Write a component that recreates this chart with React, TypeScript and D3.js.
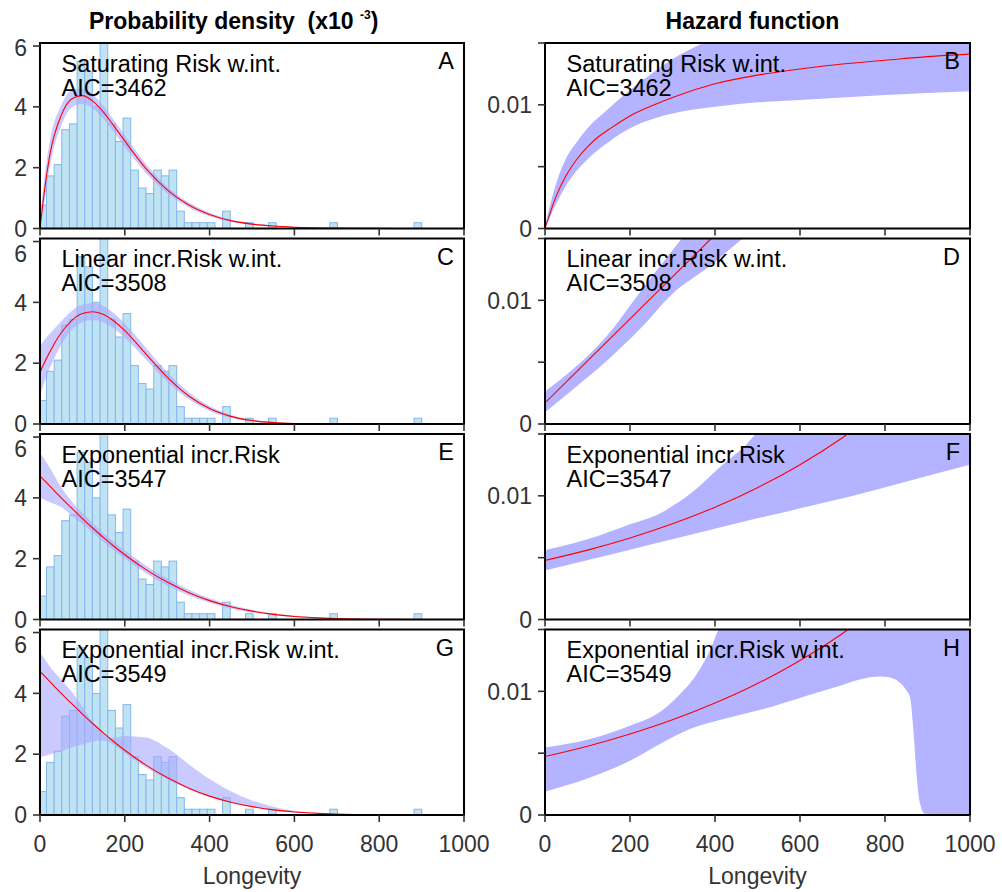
import React from 'react';
import * as d3 from 'd3';

// ---------- Histogram (density x10^-3) ----------
const BIN_START = -2.76;
const BIN_WIDTH = 18.06;
const HIST_DENSITY = [
  0.77, 1.73, 2.1, 3.25, 3.44, 5.5, 5.17, 4.0, 6.6, 3.44,
  2.86, 3.63, 1.92, 1.33, 1.15, 1.92, 1.73, 1.92, 0.57, 0.19,
  0.19, 0.19, 0.19, 0, 0.57, 0, 0, 0.19, 0, 0,
  0.19, 0, 0, 0, 0, 0, 0, 0, 0.19, 0,
  0, 0, 0, 0, 0, 0, 0, 0, 0, 0.19,
];

// ---------- Density curves (x10^-3) ----------
const T_DENS = [0, 12.5, 25, 50, 75, 100, 125, 150, 175, 200, 250, 300, 350, 400, 450, 500, 550, 600, 700, 800, 900, 1000];
const A_FIT = [0, 1.45, 2.55, 3.72, 4.27, 4.37, 4.18, 3.82, 3.36, 2.88, 1.97, 1.27, 0.78, 0.46, 0.26, 0.145, 0.08, 0.043, 0.012, 0.003, 0.001, 0];
const A_UP = [0.3, 1.9, 3.0, 4.05, 4.55, 4.6, 4.4, 4.02, 3.55, 3.07, 2.12, 1.38, 0.86, 0.52, 0.3, 0.17, 0.095, 0.052, 0.015, 0.004, 0.001, 0];
const A_LO = [0, 1.05, 2.15, 3.38, 3.98, 4.1, 3.95, 3.6, 3.16, 2.69, 1.82, 1.16, 0.7, 0.4, 0.22, 0.12, 0.065, 0.034, 0.009, 0.002, 0, 0];
const C_FIT = [1.7, 2.08, 2.42, 3.0, 3.41, 3.635, 3.69, 3.6, 3.38, 3.07, 2.3, 1.54, 0.93, 0.508, 0.251, 0.113, 0.046, 0.017, 0.0015, 0, 0, 0];
const C_UP = [2.55, 2.8, 3.0, 3.38, 3.72, 3.93, 3.98, 3.88, 3.63, 3.3, 2.5, 1.7, 1.05, 0.59, 0.3, 0.145, 0.063, 0.025, 0.003, 0, 0, 0];
const C_LO = [0.95, 1.45, 1.9, 2.6, 3.1, 3.35, 3.42, 3.34, 3.13, 2.84, 2.12, 1.39, 0.82, 0.43, 0.2, 0.085, 0.032, 0.01, 0.0005, 0, 0, 0];
const E_FIT = [4.72, 4.54, 4.36, 4.0, 3.66, 3.32, 3.0, 2.69, 2.4, 2.13, 1.64, 1.23, 0.89, 0.62, 0.42, 0.275, 0.17, 0.1, 0.03, 0.006, 0.001, 0];
const E_UP = [5.5, 5.22, 4.95, 4.35, 3.88, 3.5, 3.16, 2.84, 2.54, 2.27, 1.77, 1.35, 0.99, 0.7, 0.48, 0.32, 0.2, 0.12, 0.04, 0.01, 0.002, 0];
const E_LO = [4.0, 3.92, 3.85, 3.7, 3.42, 3.14, 2.85, 2.55, 2.27, 2.0, 1.52, 1.12, 0.8, 0.55, 0.36, 0.23, 0.14, 0.08, 0.02, 0.004, 0.0005, 0];
const G_FIT = [4.72, 4.54, 4.36, 4.0, 3.66, 3.32, 3.0, 2.69, 2.4, 2.13, 1.64, 1.23, 0.89, 0.62, 0.42, 0.275, 0.17, 0.1, 0.03, 0.006, 0.001, 0];
const G_UP = [5.35, 5.1, 4.85, 4.45, 4.05, 3.55, 3.05, 2.66, 2.53, 2.6, 2.55, 2.2, 1.68, 1.18, 0.78, 0.48, 0.27, 0.14, 0.03, 0.005, 0.001, 0];
const G_LO = [1.9, 1.95, 2.0, 2.1, 2.22, 2.33, 2.42, 2.45, 2.3, 2.03, 1.56, 1.17, 0.85, 0.59, 0.4, 0.26, 0.16, 0.09, 0.025, 0.005, 0.001, 0];

// ---------- Hazard curves ----------
const B_FIT_T = [0, 25, 50, 75, 100, 125, 150, 200, 250, 300, 400, 500, 600, 700, 800, 900, 1000];
const B_FIT = [0, 0.0025, 0.0043, 0.0056, 0.0066, 0.0074, 0.008, 0.0091, 0.0099, 0.0106, 0.0117, 0.0124, 0.0129, 0.0133, 0.0136, 0.0139, 0.0141];
const B_UP_T = [0, 25, 50, 75, 100, 150, 200, 250, 300, 372, 450, 1000];
const B_UP = [0.0002, 0.0035, 0.0057, 0.007, 0.0081, 0.0097, 0.0112, 0.0125, 0.0137, 0.015, 0.0163, 0.022];
const B_LO_T = [0, 25, 50, 100, 150, 200, 300, 400, 500, 600, 800, 1000];
const B_LO = [0, 0.0019, 0.0035, 0.0056, 0.007, 0.0081, 0.0093, 0.00985, 0.0102, 0.0104, 0.0108, 0.0111];

const D_FIT_T = [0, 100, 200, 300, 400, 500];
const D_FIT = [0.0017, 0.0051, 0.0085, 0.0119, 0.0153, 0.0188];
const D_UP_T = [0, 67, 145, 224, 322, 400, 1000];
const D_UP = [0.00262, 0.00446, 0.0071, 0.01068, 0.015, 0.0182, 0.045];
const D_LO_T = [0, 67, 145, 224, 302, 380, 465, 550, 1000];
const D_LO = [0.00095, 0.00284, 0.0051, 0.0077, 0.0106, 0.01257, 0.015, 0.0173, 0.03];

const F_FIT_T = [0, 100, 200, 300, 400, 500, 600, 700, 800];
const F_FIT = [0.00478, 0.00561, 0.00659, 0.00774, 0.00908, 0.01066, 0.01252, 0.0147, 0.01726];
const F_UP_T = [0, 106, 200, 263, 341, 420, 475, 498, 550, 1000];
const F_UP = [0.00562, 0.00655, 0.0077, 0.00846, 0.01014, 0.01257, 0.01419, 0.0151, 0.0168, 0.03];
const F_LO_T = [0, 106, 200, 302, 459, 616, 725, 851, 1000];
const F_LO = [0.00397, 0.00486, 0.00565, 0.00651, 0.00784, 0.00911, 0.01, 0.01116, 0.01251];

const H_FIT_T = [0, 100, 200, 300, 400, 500, 600, 700, 800];
const H_FIT = [0.00473, 0.00556, 0.00655, 0.0077, 0.00905, 0.01063, 0.0125, 0.01468, 0.01725];
const H_UP_T = [0, 106, 200, 263, 310, 357, 388, 408, 450, 1000];
const H_UP = [0.00546, 0.00614, 0.00722, 0.00816, 0.00951, 0.0114, 0.0133, 0.015, 0.017, 0.03];
const H_LO_T = [0, 106, 200, 263, 341, 420, 514, 616, 694, 765, 790, 812, 835, 851, 859, 867, 875, 882, 894, 1000];
const H_LO = [0.00189, 0.00303, 0.00438, 0.0056, 0.00695, 0.00776, 0.00857, 0.00965, 0.01046, 0.01114, 0.0112, 0.01112, 0.0107, 0.01005, 0.0095, 0.0068, 0.003, 0.001, 0.0001, 0];

// ---------- Labels ----------
const MODEL_NAMES = ['Saturating Risk w.int.', 'Linear incr.Risk w.int.', 'Exponential incr.Risk', 'Exponential incr.Risk w.int.'];
const AIC_VALUES = [3462, 3508, 3547, 3549];
const LEFT_LETTERS = ['A', 'C', 'E', 'G'];
const RIGHT_LETTERS = ['B', 'D', 'F', 'H'];
const X_TICKS = [0, 200, 400, 600, 800, 1000];
const DENS_TICKS = [0, 2, 4, 6];
const HAZ_TICKS = [0, 0.005, 0.01, 0.015];
const HAZ_TICK_LABELS: Record<string, string> = { '0': '0', '0.01': '0.01' };

const DENS_SERIES = [
  { fit: A_FIT, up: A_UP, lo: A_LO },
  { fit: C_FIT, up: C_UP, lo: C_LO },
  { fit: E_FIT, up: E_UP, lo: E_LO },
  { fit: G_FIT, up: G_UP, lo: G_LO },
];
const HAZ_SERIES = [
  { ft: B_FIT_T, f: B_FIT, ut: B_UP_T, u: B_UP, lt: B_LO_T, l: B_LO },
  { ft: D_FIT_T, f: D_FIT, ut: D_UP_T, u: D_UP, lt: D_LO_T, l: D_LO },
  { ft: F_FIT_T, f: F_FIT, ut: F_UP_T, u: F_UP, lt: F_LO_T, l: F_LO },
  { ft: H_FIT_T, f: H_FIT, ut: H_UP_T, u: H_UP, lt: H_LO_T, l: H_LO },
];

const FONT = '"Liberation Sans", Arial, Helvetica, sans-serif';
const TOPS = [43, 238.5, 434, 629.5];
const PH = 185.5;

export default function App() {
  const xL = d3.scaleLinear().domain([0, 1000]).range([40, 464]);
  const xR = d3.scaleLinear().domain([0, 1000]).range([545, 970]);

  const lineFrom = (xs: any, ys: any) =>
    d3.line<[number, number]>().x(d => xs(d[0])).y(d => ys(d[1])).curve(d3.curveMonotoneX);

  const bandPath = (tu: number[], vu: number[], tl: number[], vl: number[], xs: any, ys: any) => {
    const ln = lineFrom(xs, ys);
    const up = tu.map((t, i) => [t, vu[i]] as [number, number]);
    const lo = tl.map((t, i) => [t, vl[i]] as [number, number]).reverse();
    return (ln(up) || '') + (ln(lo) || '').replace(/^M/, 'L') + 'Z';
  };

  const axisCol = '#333';

  const renderFrame = (xs: any, ys: any, top: number, isBottom: boolean, side: 'L' | 'R', idx: number) => {
    const x0 = xs.range()[0];
    const x1 = xs.range()[1];
    const bottom = top + PH;
    const yt = side === 'L' ? DENS_TICKS : HAZ_TICKS;
    return (
      <g>
        <rect x={x0} y={top} width={x1 - x0} height={PH} fill="none" stroke="#000" strokeWidth={2} />
        {X_TICKS.map(t => (
          <line key={'xt' + t} x1={xs(t)} x2={xs(t)} y1={bottom} y2={bottom + 7} stroke={axisCol} strokeWidth={1.6} />
        ))}
        {isBottom && X_TICKS.map(t => (
          <text key={'xl' + t} x={xs(t)} y={852} textAnchor="middle" fontSize={23} fill={axisCol} fontFamily={FONT}>{t}</text>
        ))}
        {yt.map(v => (
          <line key={'yt' + v} x1={x0 - 7} x2={x0} y1={ys(v)} y2={ys(v)} stroke={axisCol} strokeWidth={1.6} />
        ))}
        {yt.map(v => {
          const lab = side === 'L' ? String(v) : HAZ_TICK_LABELS[String(v)];
          if (lab === undefined) return null;
          // top label nudged down so it clears the "0" of the panel above
          const shift = side === 'L' && v === 6 ? (idx === 0 ? 2 : 12) : 0;
          return (
            <text key={'yl' + v} x={x0 - 13} y={ys(v) + shift} dy="0.36em" textAnchor="end" fontSize={23} fill={axisCol} fontFamily={FONT}>{lab}</text>
          );
        })}
      </g>
    );
  };

  const renderText = (xs: any, top: number, i: number, letter: string) => {
    const x0 = xs.range()[0];
    const x1 = xs.range()[1];
    return (
      <g fontFamily={FONT} fontSize={23.5} fill="#000">
        <text x={x0 + 21.5} y={top + 28.5}>{MODEL_NAMES[i]}</text>
        <text x={x0 + 21.5} y={top + 52.5}>{'AIC=' + AIC_VALUES[i]}</text>
        <text x={x1 - 10} y={top + 26} textAnchor="end">{letter}</text>
      </g>
    );
  };

  const panels: any[] = [];
  TOPS.forEach((top, i) => {
    const isBottom = i === TOPS.length - 1;
    // density panel
    const yD = d3.scaleLinear().domain([0, 6.1]).range([top + PH, top]);
    const s = DENS_SERIES[i];
    const area = d3.area<number>()
      .x((_, k) => xL(T_DENS[k]))
      .y0((_, k) => yD(s.lo[k]))
      .y1((_, k) => yD(s.up[k]))
      .curve(d3.curveMonotoneX);
    const fitLine = d3.line<number>().x((_, k) => xL(T_DENS[k])).y(d => yD(d)).curve(d3.curveMonotoneX);
    panels.push(
      <g key={'L' + i}>
        <clipPath id={'clipL' + i}><rect x={40} y={top} width={424} height={PH} /></clipPath>
        <g clipPath={`url(#clipL${i})`}>
          {HIST_DENSITY.map((v, k) => {
            if (v <= 0) return null;
            const a = Math.max(BIN_START + k * BIN_WIDTH, 0);
            const b = BIN_START + (k + 1) * BIN_WIDTH;
            return (
              <rect key={k} x={xL(a)} y={yD(v)} width={xL(b) - xL(a)} height={yD(0) - yD(v)}
                fill="#bfe3f3" stroke="#86b6ec" strokeWidth={1} />
            );
          })}
          <path d={area(s.up) || ''} fill="#a9a9ff" fillOpacity={0.62} />
          <path d={fitLine(s.fit) || ''} fill="none" stroke="#ff0000" strokeWidth={1.1} />
        </g>
        {renderText(xL, top, i, LEFT_LETTERS[i])}
        {renderFrame(xL, yD, top, isBottom, 'L', i)}
      </g>
    );
    // hazard panel
    const yH = d3.scaleLinear().domain([0, 0.015]).range([top + PH, top]);
    const h = HAZ_SERIES[i];
    const ln = lineFrom(xR, yH);
    panels.push(
      <g key={'R' + i}>
        <clipPath id={'clipR' + i}><rect x={545} y={top} width={425} height={PH} /></clipPath>
        <g clipPath={`url(#clipR${i})`}>
          <path d={bandPath(h.ut, h.u, h.lt, h.l, xR, yH)} fill="#b3b3ff" />
          <path d={ln(h.ft.map((t, k) => [t, h.f[k]] as [number, number])) || ''} fill="none" stroke="#ff0000" strokeWidth={1.1} />
        </g>
        {renderText(xR, top, i, RIGHT_LETTERS[i])}
        {renderFrame(xR, yH, top, isBottom, 'R', i)}
      </g>
    );
  });

  return (
    <svg width={1002} height={892} style={{ position: 'absolute', left: 0, top: 0, background: '#fff' }}>
      <rect x={0} y={0} width={1002} height={892} fill="#fff" />
      <text x={89} y={29} fontFamily={FONT} fontWeight="bold" fontSize={23} fill="#000" style={{ whiteSpace: 'pre' }}>
        {'Probability density  (x10 '}
        <tspan fontSize={12} dy={-10}>{'-3'}</tspan>
        <tspan fontSize={23} dy={10}>{')'}</tspan>
      </text>
      <text x={752.5} y={29} textAnchor="middle" fontFamily={FONT} fontWeight="bold" fontSize={23} fill="#000">Hazard function</text>
      {panels}
      <text x={252} y={884} textAnchor="middle" fontFamily={FONT} fontSize={23} fill={axisCol}>Longevity</text>
      <text x={757.5} y={884} textAnchor="middle" fontFamily={FONT} fontSize={23} fill={axisCol}>Longevity</text>
    </svg>
  );
}
